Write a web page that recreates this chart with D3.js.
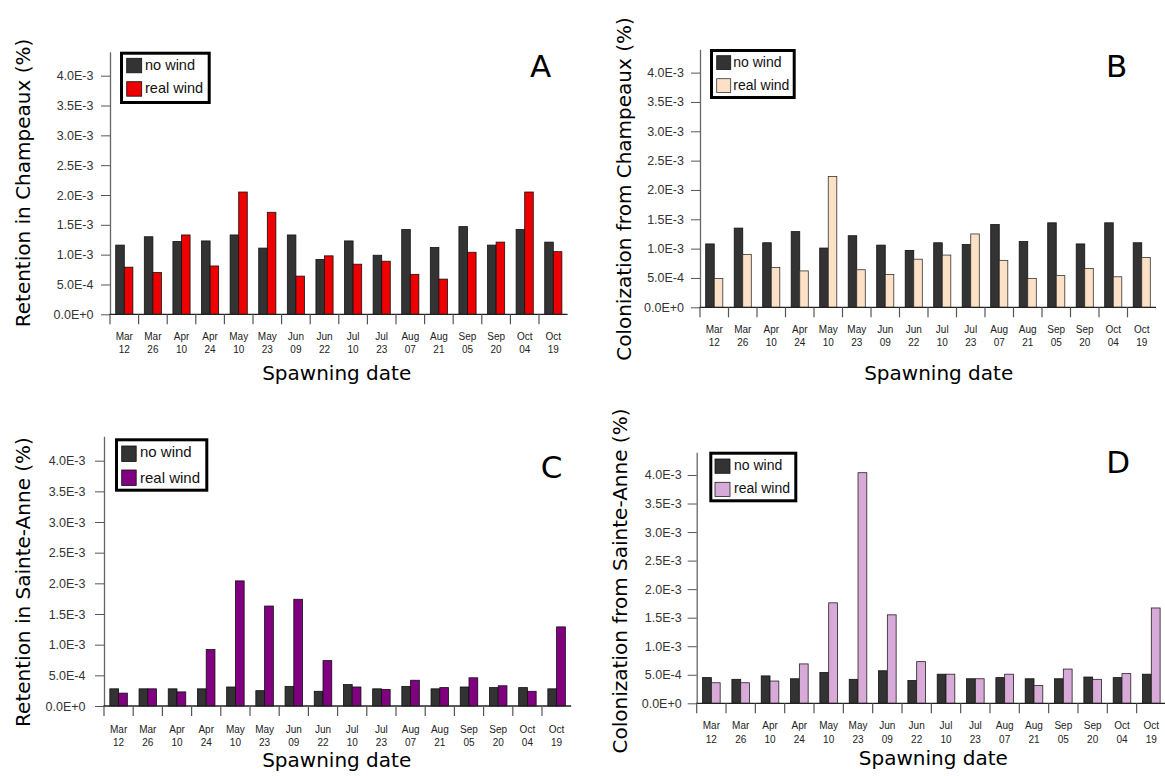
<!DOCTYPE html>
<html>
<head>
<meta charset="utf-8">
<script src="https://cdn.jsdelivr.net/npm/d3@7"></script>
<style>
  html, body { margin: 0; padding: 0; background: #fff; }
  svg { display: block; }
</style>
</head>
<body>
<svg id="chart" width="1165" height="776"></svg>
<script>
// ---------------- DATA ----------------
const categories = ["Mar 12","Mar 26","Apr 10","Apr 24","May 10","May 23","Jun 09","Jun 22",
                    "Jul 10","Jul 23","Aug 07","Aug 21","Sep 05","Sep 20","Oct 04","Oct 19"];
const seriesNames = ["no wind", "real wind"];

const yTickValues = [0, 0.5e-3, 1.0e-3, 1.5e-3, 2.0e-3, 2.5e-3, 3.0e-3, 3.5e-3, 4.0e-3];
const yTickLabels = ["0.0E+0","5.0E-4","1.0E-3","1.5E-3","2.0E-3","2.5E-3","3.0E-3","3.5E-3","4.0E-3"];

// Panel A: Retention in Champeaux
const retentionChampeauxNoWind   = [1.16e-3,1.30e-3,1.22e-3,1.23e-3,1.33e-3,1.11e-3,1.33e-3,0.92e-3,1.23e-3,0.99e-3,1.42e-3,1.12e-3,1.47e-3,1.16e-3,1.42e-3,1.21e-3];
const retentionChampeauxRealWind = [0.79e-3,0.70e-3,1.33e-3,0.81e-3,2.05e-3,1.71e-3,0.64e-3,0.98e-3,0.84e-3,0.89e-3,0.67e-3,0.59e-3,1.04e-3,1.21e-3,2.05e-3,1.05e-3];

// Panel B: Colonization from Champeaux
const colonizationChampeauxNoWind   = [1.08e-3,1.35e-3,1.10e-3,1.29e-3,1.01e-3,1.22e-3,1.06e-3,0.97e-3,1.10e-3,1.07e-3,1.41e-3,1.12e-3,1.44e-3,1.08e-3,1.44e-3,1.10e-3];
const colonizationChampeauxRealWind = [0.49e-3,0.90e-3,0.68e-3,0.62e-3,2.23e-3,0.64e-3,0.56e-3,0.82e-3,0.89e-3,1.25e-3,0.80e-3,0.49e-3,0.54e-3,0.66e-3,0.52e-3,0.85e-3];

// Panel C: Retention in Sainte-Anne
const retentionSainteAnneNoWind   = [0.28e-3,0.28e-3,0.28e-3,0.28e-3,0.31e-3,0.25e-3,0.32e-3,0.24e-3,0.35e-3,0.28e-3,0.32e-3,0.28e-3,0.31e-3,0.30e-3,0.30e-3,0.28e-3];
const retentionSainteAnneRealWind = [0.21e-3,0.28e-3,0.23e-3,0.92e-3,2.04e-3,1.63e-3,1.74e-3,0.74e-3,0.31e-3,0.27e-3,0.42e-3,0.30e-3,0.46e-3,0.33e-3,0.24e-3,1.29e-3];

// Panel D: Colonization from Sainte-Anne
const colonizationSainteAnneNoWind   = [0.45e-3,0.42e-3,0.48e-3,0.43e-3,0.54e-3,0.42e-3,0.57e-3,0.40e-3,0.51e-3,0.43e-3,0.45e-3,0.43e-3,0.43e-3,0.46e-3,0.45e-3,0.51e-3];
const colonizationSainteAnneRealWind = [0.36e-3,0.36e-3,0.39e-3,0.69e-3,1.76e-3,4.04e-3,1.55e-3,0.73e-3,0.51e-3,0.43e-3,0.51e-3,0.31e-3,0.60e-3,0.42e-3,0.52e-3,1.67e-3];

// ---------------- LAYOUT ----------------
const panels = [
  { letter: "A", yTitle: "Retention in Champeaux (%)", noWind: retentionChampeauxNoWind, realWind: retentionChampeauxRealWind,
    color: "#ee0000", barStroke: "#111",
    left: 110, step: 28.6, bottom: 314.3, perUnit: 59.65,
    legend: { x: 120, y: 51.7, w: 90.7, h: 52.3, sx: 126.7, sw: 15, sh: 14.5, sy: [58.3, 81.7], tx: 145, ty: [70, 93.3], fs: 14.5 },
    letterPos: [540.5, 76.7], yTitlePos: [30, 183], xTitlePos: [336.7, 380], tickRight: 93.5, xlab: 25.5 },
  { letter: "B", yTitle: "Colonization from Champeaux (%)", noWind: colonizationChampeauxNoWind, realWind: colonizationChampeauxRealWind,
    color: "#fde1c6", barStroke: "#333",
    left: 700, step: 28.5, bottom: 307.3, perUnit: 58.67,
    legend: { x: 710, y: 49, w: 85.7, h: 50, sx: 716.7, sw: 14, sh: 13.8, sy: [55.7, 78.7], tx: 733.3, ty: [66.7, 90], fs: 14 },
    letterPos: [1116.7, 76.7], yTitlePos: [631, 189], xTitlePos: [938.7, 380], tickRight: 684, xlab: 25.4 },
  { letter: "C", yTitle: "Retention in Sainte-Anne (%)", noWind: retentionSainteAnneNoWind, realWind: retentionSainteAnneRealWind,
    color: "#800080", barStroke: "#111",
    left: 104, step: 29.2, bottom: 706, perUnit: 61.33,
    legend: { x: 115, y: 438.3, w: 93.3, h: 53.4, sx: 121.7, sw: 14.5, sh: 15.5, sy: [446, 470], tx: 140, ty: [457.3, 482.7], fs: 15 },
    letterPos: [551.7, 478.3], yTitlePos: [30, 582], xTitlePos: [336.7, 767], tickRight: 85.5, xlab: 26.5 },
  { letter: "D", yTitle: "Colonization from Sainte-Anne (%)", noWind: colonizationSainteAnneNoWind, realWind: colonizationSainteAnneRealWind,
    color: "#d8aad8", barStroke: "#222",
    left: 696.7, step: 29.33, bottom: 703.3, perUnit: 57.08,
    legend: { x: 709.3, y: 451.7, w: 88, h: 50.6, sx: 715, sw: 15, sh: 14.3, sy: [459, 482.3], tx: 734, ty: [470, 493.3], fs: 14 },
    letterPos: [1118.3, 473.3], yTitlePos: [627, 581], xTitlePos: [933.3, 765], tickRight: 681.7, xlab: 26 }
];

const NOWIND_COLOR = "#333333";
const svg = d3.select("#chart");

panels.forEach(p => {
  const g = svg.append("g");
  const yMax = 4.4e-3;
  const y = d3.scaleLinear().domain([0, yMax]).range([p.bottom, p.bottom - yMax * 1000 * p.perUnit]);
  const x = d3.scaleBand().domain(categories).range([p.left, p.left + categories.length * p.step]).padding(0);
  const xi = d3.scaleBand().domain(seriesNames).range([0, x.bandwidth()]).paddingInner(0).paddingOuter(0.667);

  // bars
  const rows = categories.map((c, i) => ({ cat: c, vals: [p.noWind[i], p.realWind[i]] }));
  const grp = g.selectAll("g.cat").data(rows).join("g").attr("transform", d => `translate(${x(d.cat)},0)`);
  grp.selectAll("rect").data(d => d.vals.map((v, k) => ({ v, k })))
    .join("rect")
    .attr("x", d => xi(seriesNames[d.k]))
    .attr("width", xi.bandwidth())
    .attr("y", d => y(d.v))
    .attr("height", d => y(0) - y(d.v))
    .attr("fill", d => d.k === 0 ? NOWIND_COLOR : p.color)
    .attr("stroke", d => d.k === 0 ? "#111" : p.barStroke)
    .attr("stroke-width", 0.8);

  // y axis
  const ya = g.append("g").attr("transform", `translate(${p.left},0)`)
    .call(d3.axisLeft(y).tickValues(yTickValues).tickFormat((d, i) => yTickLabels[i]).tickSize(9).tickSizeOuter(0).tickPadding(p.left - 9 - p.tickRight));
  ya.select(".domain").attr("stroke", "#666").attr("stroke-width", 1.3);
  ya.selectAll(".tick line").attr("stroke", "#555").attr("stroke-width", 1);
  ya.selectAll(".tick text").attr("font-family", "Liberation Sans, Arial, sans-serif").attr("font-size", 12.5).attr("fill", "#333");

  // x axis
  const xa = g.append("g").attr("transform", `translate(0,${p.bottom})`)
    .call(d3.axisBottom(x).tickSize(10).tickSizeOuter(0).tickFormat(""));
  xa.select(".domain").attr("stroke", "#222").attr("stroke-width", 1.3).attr("d", `M${p.left - 0.6},0H${p.left + categories.length * p.step}`);
  xa.selectAll(".tick line").attr("stroke", "#555").attr("stroke-width", 1.2)
    .attr("transform", `translate(${-x.bandwidth() / 2},0)`);
  xa.selectAll(".tick").each(function(d) {
    const parts = d.split(" ");
    const t = d3.select(this).append("text")
      .attr("text-anchor", "middle")
      .attr("font-family", "Liberation Sans, Arial, sans-serif")
      .attr("font-size", 10).attr("fill", "#222");
    t.append("tspan").attr("x", 0).attr("y", p.xlab).text(parts[0]);
    t.append("tspan").attr("x", 0).attr("y", p.xlab + 13.5).text(parts[1]);
  });

  // axis titles
  g.append("text").attr("x", p.xTitlePos[0]).attr("y", p.xTitlePos[1])
    .attr("text-anchor", "middle").attr("font-family", "DejaVu Sans, sans-serif")
    .attr("font-size", 20).attr("fill", "#000").text("Spawning date");
  g.append("text")
    .attr("transform", `translate(${p.yTitlePos[0]},${p.yTitlePos[1]}) rotate(-90)`)
    .attr("text-anchor", "middle").attr("font-family", "DejaVu Sans, sans-serif")
    .attr("font-size", 20).attr("fill", "#000").text(p.yTitle);

  // panel letter
  g.append("text").attr("x", p.letterPos[0]).attr("y", p.letterPos[1])
    .attr("text-anchor", "middle").attr("font-family", "DejaVu Sans, sans-serif")
    .attr("font-size", 31).attr("fill", "#000").text(p.letter);

  // legend
  const L = p.legend;
  const lg = g.append("g");
  lg.append("rect").attr("x", L.x + 1.5).attr("y", L.y + 1.5).attr("width", L.w - 3).attr("height", L.h - 3)
    .attr("fill", "#fff").attr("stroke", "#000").attr("stroke-width", 3);
  seriesNames.forEach((name, k) => {
    lg.append("rect").attr("x", L.sx).attr("y", L.sy[k]).attr("width", L.sw).attr("height", L.sh)
      .attr("fill", k === 0 ? NOWIND_COLOR : p.color).attr("stroke", k === 0 ? "#111" : p.barStroke).attr("stroke-width", 0.8);
    lg.append("text").attr("x", L.tx).attr("y", L.ty[k])
      .attr("font-family", "Liberation Sans, Arial, sans-serif").attr("font-size", L.fs).attr("fill", "#111").text(name);
  });
});
</script>
</body>
</html>
